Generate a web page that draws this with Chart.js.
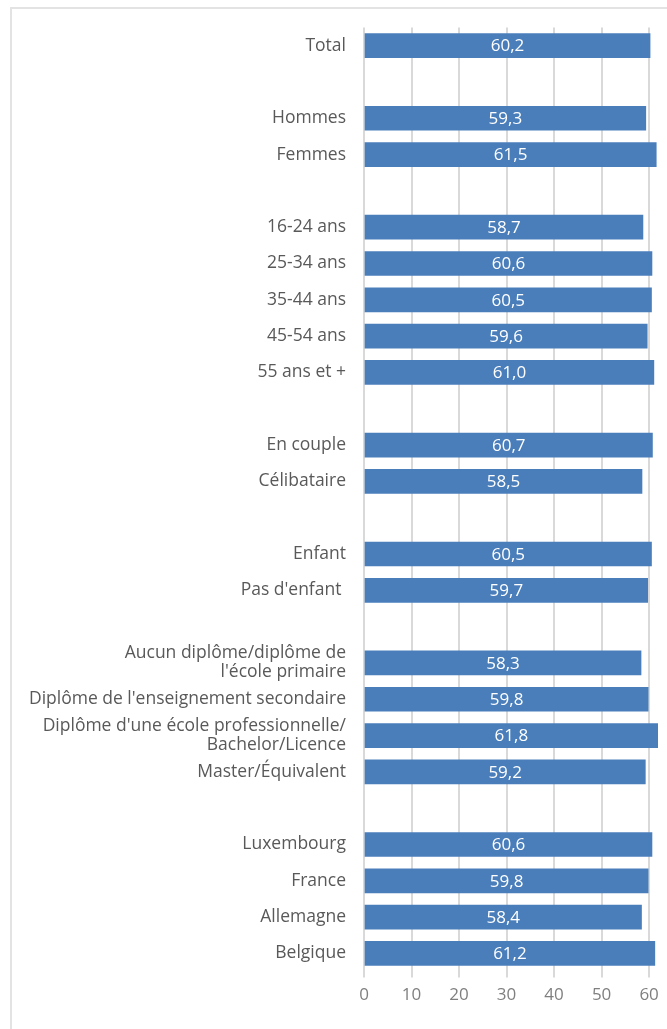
<!DOCTYPE html>
<html>
<head>
<meta charset="utf-8">
<script src="https://cdn.jsdelivr.net/npm/chart.js@4.4.1/dist/chart.umd.min.js"></script>
<style>
  body { margin: 0; background: #fff; }
  #frame { position: absolute; left: 10px; top: 7px; width: 700px; height: 1100px;
           border-left: 2px solid #e3e3e3; border-top: 2px solid #e3e3e3; }
  #wrap { position: absolute; left: 0; top: 0; width: 667px; height: 1029px; }
</style>
</head>
<body>
<div id="frame"></div>
<div id="wrap"><canvas id="mycanvas"></canvas></div>
<script>
// categories (blank strings are spacer rows)
var categories = [
  'Total', '',
  'Hommes', 'Femmes', '',
  '16-24 ans', '25-34 ans', '35-44 ans', '45-54 ans', '55 ans et +', '',
  'En couple', 'Célibataire', '',
  'Enfant', "Pas d'enfant ", '',
  ['Aucun diplôme/diplôme de', "l'école primaire"],
  "Diplôme de l'enseignement secondaire",
  ["Diplôme d'une école professionnelle/", 'Bachelor/Licence'],
  'Master/Équivalent', '',
  'Luxembourg', 'France', 'Allemagne', 'Belgique'
];
var values = [
  60.2, null,
  59.3, 61.5, null,
  58.7, 60.6, 60.5, 59.6, 61.0, null,
  60.7, 58.5, null,
  60.5, 59.7, null,
  58.3, 59.8, 61.8, 59.2, null,
  60.6, 59.8, 58.4, 61.2
];
var xTicks = [0, 10, 20, 30, 40, 50, 60];

var valueLabels = {
  id: 'valueLabels',
  afterDatasetsDraw: function(chart) {
    var ctx = chart.ctx;
    var meta = chart.getDatasetMeta(0);
    ctx.save();
    ctx.fillStyle = '#ffffff';
    ctx.font = '17px "Open Sans"';
    ctx.textAlign = 'center';
    ctx.textBaseline = 'middle';
    meta.data.forEach(function(bar, i) {
      if (values[i] == null) return;
      var x = (bar.x + bar.base) / 2;
      ctx.fillText(values[i].toFixed(1).replace('.', ','), x, bar.y + 1);
    });
    ctx.restore();
  }
};

var ctx = document.getElementById('mycanvas');
var chart = new Chart(ctx, {
  type: 'bar',
  data: {
    labels: categories,
    datasets: [{
      data: values,
      backgroundColor: '#4a7ebb',
      barThickness: 24
    }]
  },
  options: {
    indexAxis: 'y',
    responsive: true,
    maintainAspectRatio: false,
    animation: false,
    layout: { padding: { top: 26, right: 6, bottom: 17, left: 0 } },
    plugins: { legend: { display: false }, tooltip: { enabled: false } },
    scales: {
      x: {
        min: 0,
        max: 62.5,
        afterBuildTicks: function(axis) {
          axis.ticks = xTicks.map(function(v) { return { value: v }; });
        },
        grid: { color: '#d9d9d9', lineWidth: 2, tickLength: 6 },
        border: { display: false },
        ticks: { color: '#7f7f7f', font: { size: 17, family: '"Open Sans"' }, padding: 7, maxRotation: 0 }
      },
      y: {
        afterFit: function(axis) { axis.width = 364; },
        grid: { display: false, drawTicks: false },
        border: { display: false },
        ticks: { color: '#595959', font: { size: 17.5, family: '"Open Sans"', lineHeight: 1.08 }, padding: 18, autoSkip: false }
      }
    }
  },
  plugins: [valueLabels]
});
</script>
</body>
</html>
